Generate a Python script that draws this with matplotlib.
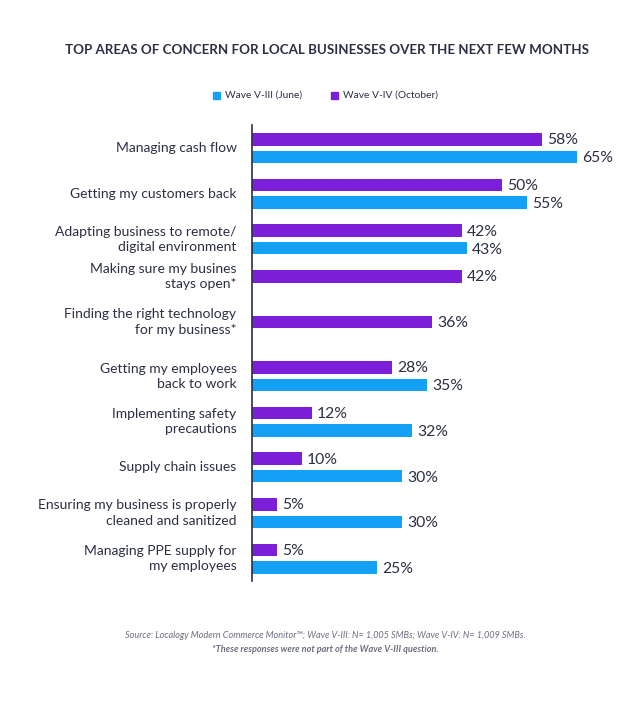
import numpy as np
import matplotlib.pyplot as plt

categories = [
    "Managing cash flow",
    "Getting my customers back",
    "Adapting business to remote/\ndigital environment",
    "Making sure my busines\nstays open*",
    "Finding the right technology\nfor my business*",
    "Getting my employees\nback to work",
    "Implementing safety\nprecautions",
    "Supply chain issues",
    "Ensuring my business is properly\ncleaned and sanitized",
    "Managing PPE supply for\nmy employees",
]
wave_june = [65, 55, 43, None, None, 35, 32, 30, 30, 25]
wave_october = [58, 50, 42, 42, 36, 28, 12, 10, 5, 5]

BLUE = "#14a0f5"
PURPLE = "#7b1fd8"
TEXT = "#2b2f45"

plt.rcParams["font.family"] = ["Lato", "DejaVu Sans"]

fig = plt.figure(figsize=(6.39, 7.27), dpi=100)
W, H = 639, 727
ax = fig.add_axes([251.5 / W, (H - 581) / H, 350 / W, 456 / H])

# pixel-ish y scale, rows every 45.6 px
pitch = 45.6
first = 139.5
gap = 17.5
bh = 12.5

for i, cat in enumerate(categories):
    yp = first + pitch * i
    yb = yp + gap
    ax.barh(yp, wave_october[i], height=bh, color=PURPLE)
    ax.text(wave_october[i] + 1.1, yp + 1, f"{wave_october[i]}%", va="center",
            ha="left", fontsize=11.3, color=TEXT)
    if wave_june[i] is not None:
        ax.barh(yb, wave_june[i], height=bh, color=BLUE)
        ax.text(wave_june[i] + 1.1, yb + 1.5, f"{wave_june[i]}%", va="center",
                ha="left", fontsize=11.3, color=TEXT)
        ly = yp + gap / 2
    else:
        ly = yp
    ax.text(-3, ly, cat, ha="right", va="center", fontsize=10.0, color=TEXT,
            linespacing=1.32)

ax.set_xlim(0, 70)
ax.set_ylim(581, 125)
ax.set_xticks([])
ax.set_yticks([])
for s in ["top", "right", "bottom"]:
    ax.spines[s].set_visible(False)
ax.spines["left"].set_color(TEXT)
ax.spines["left"].set_linewidth(1.2)

fig.text(327 / W, 1 - 50 / H, "TOP AREAS OF CONCERN FOR LOCAL BUSINESSES OVER THE NEXT FEW MONTHS",
         ha="center", va="center", fontsize=9.6, fontweight="bold", color=TEXT)

# legend
fig.patches.append(plt.Rectangle((213 / W, 1 - 99 / H), 7 / W, 7 / H, color=BLUE,
                                 transform=fig.transFigure, figure=fig))
fig.text(225 / W, 1 - 95.5 / H, "Wave V-III (June)", ha="left", va="center",
         fontsize=7.4, color=TEXT)
fig.patches.append(plt.Rectangle((331 / W, 1 - 99 / H), 7 / W, 7 / H, color=PURPLE,
                                 transform=fig.transFigure, figure=fig))
fig.text(343 / W, 1 - 95.5 / H, "Wave V-IV (October)", ha="left", va="center",
         fontsize=7.4, color=TEXT)

fig.text(325 / W, 1 - 636 / H,
         "Source: Localogy Modern Commerce Monitor\u2122; Wave V-III: N= 1,005 SMBs; Wave V-IV: N= 1,009 SMBs.",
         ha="center", va="center", fontsize=6.6, style="italic", color="#6b6f80")
fig.text(325 / W, 1 - 650 / H, "*These responses were not part of the Wave V-III question.",
         ha="center", va="center", fontsize=6.6, style="italic", fontweight="bold",
         color="#6b6f80")

fig.savefig("out.png", dpi=100, facecolor="white")
